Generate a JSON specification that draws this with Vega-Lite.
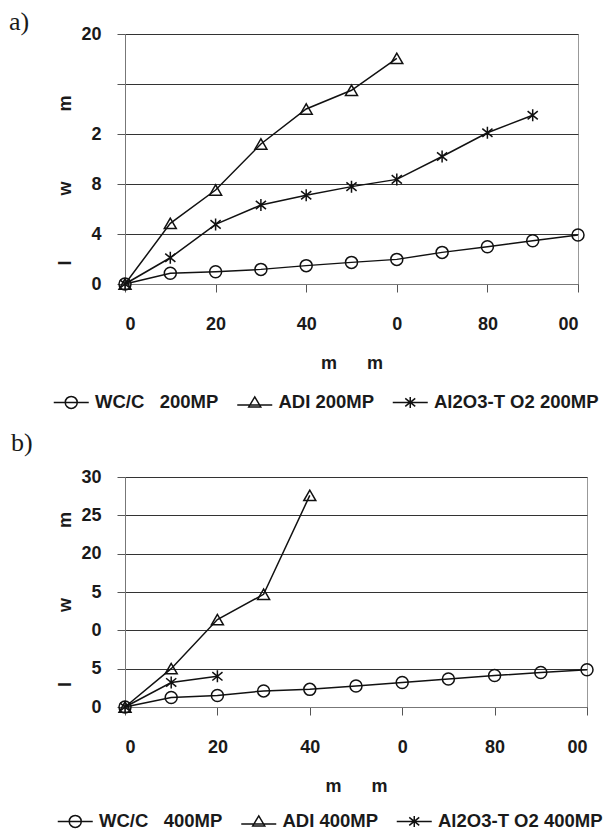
{
  "$schema": "https://vega.github.io/schema/vega-lite/v6.json",
  "background": "white",
  "padding": {"left": 8, "top": 8, "right": 0, "bottom": 0},
  "spacing": 16,
  "config": {
    "font": "Liberation Sans",
    "view": {"stroke": "#999", "strokeWidth": 1},
    "axis": {
      "labelFont": "Liberation Sans", "labelFontSize": 18, "labelFontWeight": "bold", "labelColor": "#1a1a1a",
      "titleFont": "Liberation Sans", "titleFontSize": 18, "titleFontWeight": "bold", "titleColor": "#1a1a1a",
      "tickColor": "#555", "tickSize": 8, "tickWidth": 1, "domainColor": "#777",
      "gridColor": "#333", "gridWidth": 1, "gridOpacity": 1
    },
    "legend": {
      "direction": "horizontal", "title": null,
      "labelFont": "Liberation Sans", "labelFontSize": 18.5, "labelFontWeight": "bold", "labelColor": "#1a1a1a",
      "symbolSize": 100, "symbolStrokeWidth": 1.5, "symbolFillColor": "transparent",
      "labelOffset": 14.5, "columnPadding": 14.5, "labelLimit": 400
    }
  },
  "vconcat": [
    {
      "title": {"text": "a)", "font": "Liberation Serif", "fontSize": 26, "fontWeight": "normal", "color": "#1a1a1a", "anchor": "start", "frame": "group", "dx": -116, "offset": -10},
      "width": 453,
      "height": 250,
      "data": {"values": [
        {"s": "WC/C\u00a0\u00a0\u00a0200MP", "x": 0, "y": 0},
        {"s": "WC/C\u00a0\u00a0\u00a0200MP", "x": 10, "y": 0.86},
        {"s": "WC/C\u00a0\u00a0\u00a0200MP", "x": 20, "y": 0.98},
        {"s": "WC/C\u00a0\u00a0\u00a0200MP", "x": 30, "y": 1.17},
        {"s": "WC/C\u00a0\u00a0\u00a0200MP", "x": 40, "y": 1.47},
        {"s": "WC/C\u00a0\u00a0\u00a0200MP", "x": 50, "y": 1.73},
        {"s": "WC/C\u00a0\u00a0\u00a0200MP", "x": 60, "y": 1.97},
        {"s": "WC/C\u00a0\u00a0\u00a0200MP", "x": 70, "y": 2.53},
        {"s": "WC/C\u00a0\u00a0\u00a0200MP", "x": 80, "y": 2.98},
        {"s": "WC/C\u00a0\u00a0\u00a0200MP", "x": 90, "y": 3.46},
        {"s": "WC/C\u00a0\u00a0\u00a0200MP", "x": 100, "y": 3.92},
        {"s": "ADI 200MP", "x": 0, "y": 0},
        {"s": "ADI 200MP", "x": 10, "y": 4.85},
        {"s": "ADI 200MP", "x": 20, "y": 7.52},
        {"s": "ADI 200MP", "x": 30, "y": 11.2},
        {"s": "ADI 200MP", "x": 40, "y": 14.0},
        {"s": "ADI 200MP", "x": 50, "y": 15.5},
        {"s": "ADI 200MP", "x": 60, "y": 18.05},
        {"s": "Al2O3-T O2 200MP", "x": 0, "y": 0},
        {"s": "Al2O3-T O2 200MP", "x": 10, "y": 2.1},
        {"s": "Al2O3-T O2 200MP", "x": 20, "y": 4.77},
        {"s": "Al2O3-T O2 200MP", "x": 30, "y": 6.32},
        {"s": "Al2O3-T O2 200MP", "x": 40, "y": 7.1},
        {"s": "Al2O3-T O2 200MP", "x": 50, "y": 7.79},
        {"s": "Al2O3-T O2 200MP", "x": 60, "y": 8.37},
        {"s": "Al2O3-T O2 200MP", "x": 70, "y": 10.2},
        {"s": "Al2O3-T O2 200MP", "x": 80, "y": 12.1},
        {"s": "Al2O3-T O2 200MP", "x": 90, "y": 13.5}
      ]},
      "encoding": {
        "x": {"field": "x", "type": "quantitative", "scale": {"domain": [0, 100], "nice": false},
          "axis": {"values": [0, 20, 40, 60, 80, 100], "grid": false, "labelPadding": 23, "titlePadding": 21,
            "labelExpr": "datum.value == 60 ? '0' : datum.value == 100 ? '00' : datum.label",
            "title": "m\u00a0\u00a0\u00a0\u00a0\u00a0\u00a0m"}},
        "y": {"field": "y", "type": "quantitative", "scale": {"domain": [0, 20], "nice": false},
          "axis": {"values": [0, 4, 8, 12, 16, 20], "labelPadding": 16, "titlePadding": 6, "titleY": 146,
            "labelExpr": "datum.value == 16 ? '' : datum.value == 12 ? '2' : datum.label",
            "title": "l\u00a0\u00a0\u00a0\u00a0\u00a0\u00a0\u00a0\u00a0\u00a0\u00a0\u00a0\u00a0\u00a0w\u00a0\u00a0\u00a0\u00a0\u00a0\u00a0\u00a0\u00a0\u00a0\u00a0\u00a0\u00a0\u00a0\u00a0m"}}
      },
      "layer": [
        {"mark": {"type": "line", "color": "#111", "strokeWidth": 1.5},
          "encoding": {"detail": {"field": "s", "type": "nominal"}}},
        {"mark": {"type": "point", "filled": false, "size": 144, "strokeWidth": 1.5, "opacity": 1},
          "encoding": {
            "shape": {"field": "s", "type": "nominal", "legend": null,
              "scale": {"range": ["triangle-up", "M0,-1L0,1M-0.85,-0.7L0.85,0.7M-0.85,0.7L0.85,-0.7", "circle"]}},
            "color": {"field": "s", "type": "nominal",
              "scale": {"domain": ["WC/C\u00a0\u00a0\u00a0200MP", "ADI 200MP", "Al2O3-T O2 200MP"], "range": ["#111", "#111", "#111"]},
              "legend": {"orient": "none", "legendX": -63, "legendY": 359,
                "symbolType": {"expr": "indexof(datum.value,'WC') >= 0 ? 'M-3.5,0L3.5,0M1.2,0A1.2,1.2,0,1,1,-1.2,0A1.2,1.2,0,1,1,1.2,0' : indexof(datum.value,'ADI') >= 0 ? 'M-3.5,0.5L3.5,0.5M0,-1.1L1.2,0.9L-1.2,0.9Z' : 'M-3.5,0L3.5,0M0,-1.1L0,1.1M-1,-0.8L1,0.8M-1,0.8L1,-0.8'"}}}
          }}
      ]
    },
    {
      "title": {"text": "b)", "font": "Liberation Serif", "fontSize": 26, "fontWeight": "normal", "color": "#1a1a1a", "anchor": "start", "frame": "group", "dx": -114, "offset": 12},
      "width": 462,
      "height": 230,
      "data": {"values": [
        {"s": "WC/C\u00a0\u00a0\u00a0400MP", "x": 0, "y": 0},
        {"s": "WC/C\u00a0\u00a0\u00a0400MP", "x": 10, "y": 1.25},
        {"s": "WC/C\u00a0\u00a0\u00a0400MP", "x": 20, "y": 1.5},
        {"s": "WC/C\u00a0\u00a0\u00a0400MP", "x": 30, "y": 2.1},
        {"s": "WC/C\u00a0\u00a0\u00a0400MP", "x": 40, "y": 2.3},
        {"s": "WC/C\u00a0\u00a0\u00a0400MP", "x": 50, "y": 2.75},
        {"s": "WC/C\u00a0\u00a0\u00a0400MP", "x": 60, "y": 3.2},
        {"s": "WC/C\u00a0\u00a0\u00a0400MP", "x": 70, "y": 3.65},
        {"s": "WC/C\u00a0\u00a0\u00a0400MP", "x": 80, "y": 4.1},
        {"s": "WC/C\u00a0\u00a0\u00a0400MP", "x": 90, "y": 4.5},
        {"s": "WC/C\u00a0\u00a0\u00a0400MP", "x": 100, "y": 4.85},
        {"s": "ADI 400MP", "x": 0, "y": 0},
        {"s": "ADI 400MP", "x": 10, "y": 5.0},
        {"s": "ADI 400MP", "x": 20, "y": 11.4},
        {"s": "ADI 400MP", "x": 30, "y": 14.7},
        {"s": "ADI 400MP", "x": 40, "y": 27.6},
        {"s": "Al2O3-T O2 400MP", "x": 0, "y": 0},
        {"s": "Al2O3-T O2 400MP", "x": 10, "y": 3.2},
        {"s": "Al2O3-T O2 400MP", "x": 20, "y": 4.0}
      ]},
      "encoding": {
        "x": {"field": "x", "type": "quantitative", "scale": {"domain": [0, 100], "nice": false},
          "axis": {"values": [0, 20, 40, 60, 80, 100], "grid": false, "labelPadding": 23, "titlePadding": 21,
            "labelExpr": "datum.value == 60 ? '0' : datum.value == 100 ? '00' : datum.label",
            "title": "m\u00a0\u00a0\u00a0\u00a0\u00a0\u00a0m"}},
        "y": {"field": "y", "type": "quantitative", "scale": {"domain": [0, 30], "nice": false},
          "axis": {"values": [0, 5, 10, 15, 20, 25, 30], "labelPadding": 16, "titlePadding": 6, "titleY": 122,
            "labelExpr": "datum.value == 15 ? '5' : datum.value == 10 ? '0' : datum.label",
            "title": "l\u00a0\u00a0\u00a0\u00a0\u00a0\u00a0\u00a0\u00a0\u00a0\u00a0\u00a0\u00a0\u00a0\u00a0w\u00a0\u00a0\u00a0\u00a0\u00a0\u00a0\u00a0\u00a0\u00a0\u00a0\u00a0\u00a0\u00a0\u00a0m"}}
      },
      "layer": [
        {"mark": {"type": "line", "color": "#111", "strokeWidth": 1.5},
          "encoding": {"detail": {"field": "s", "type": "nominal"}}},
        {"mark": {"type": "point", "filled": false, "size": 144, "strokeWidth": 1.5, "opacity": 1},
          "encoding": {
            "shape": {"field": "s", "type": "nominal", "legend": null,
              "scale": {"range": ["triangle-up", "M0,-1L0,1M-0.85,-0.7L0.85,0.7M-0.85,0.7L0.85,-0.7", "circle"]}},
            "color": {"field": "s", "type": "nominal",
              "scale": {"domain": ["WC/C\u00a0\u00a0\u00a0400MP", "ADI 400MP", "Al2O3-T O2 400MP"], "range": ["#111", "#111", "#111"]},
              "legend": {"orient": "none", "legendX": -59, "legendY": 335,
                "symbolType": {"expr": "indexof(datum.value,'WC') >= 0 ? 'M-3.5,0L3.5,0M1.2,0A1.2,1.2,0,1,1,-1.2,0A1.2,1.2,0,1,1,1.2,0' : indexof(datum.value,'ADI') >= 0 ? 'M-3.5,0.5L3.5,0.5M0,-1.1L1.2,0.9L-1.2,0.9Z' : 'M-3.5,0L3.5,0M0,-1.1L0,1.1M-1,-0.8L1,0.8M-1,0.8L1,-0.8'"}}}
          }}
      ]
    }
  ],
  "resolve": {"scale": {"shape": "independent", "color": "independent"}, "legend": {"shape": "independent", "color": "independent"}}
}
